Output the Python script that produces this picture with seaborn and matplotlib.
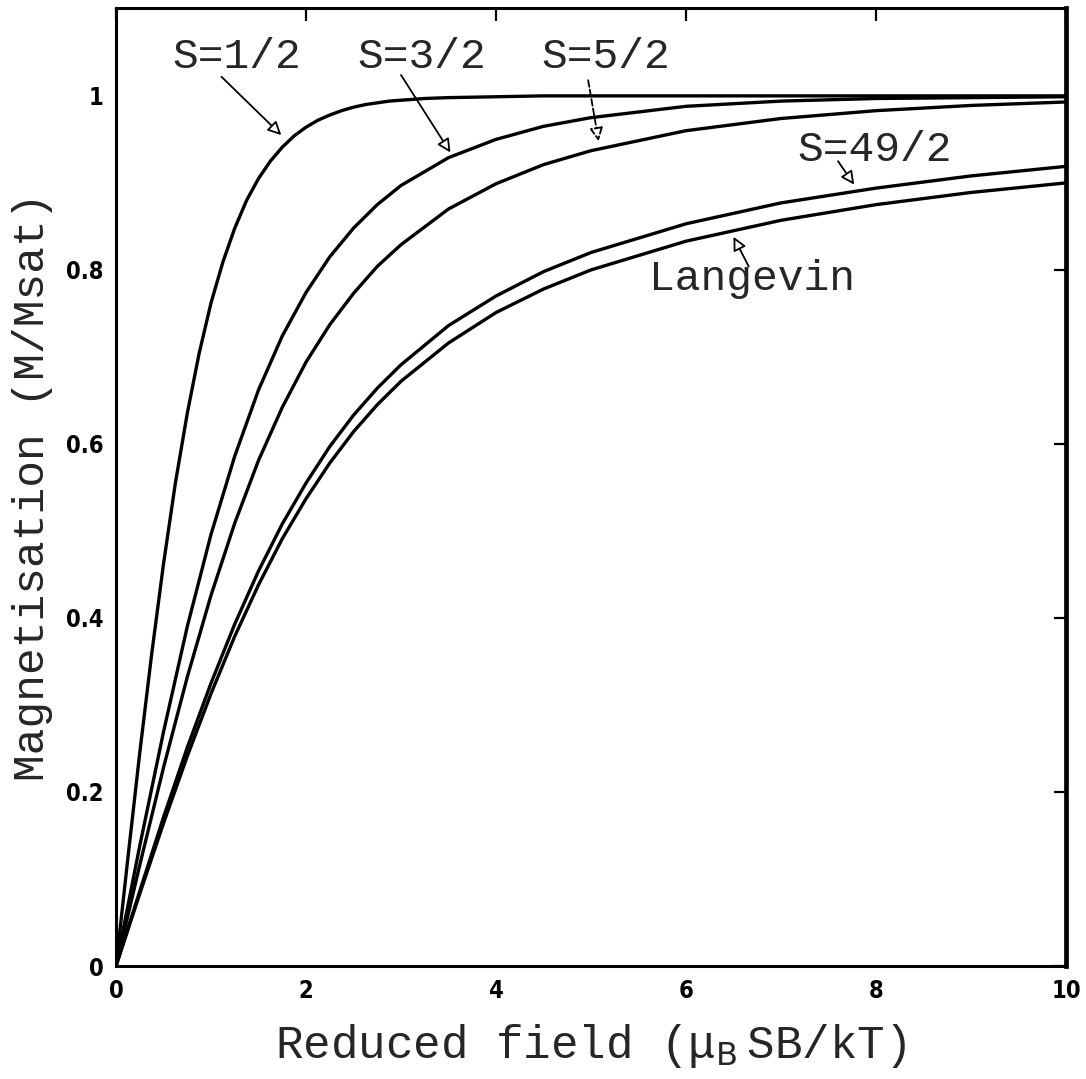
import matplotlib
matplotlib.use("Agg")
import matplotlib.pyplot as plt
import seaborn as sns
import pandas as pd

# ---- data ----
field_s1_2 = [0, 0.125, 0.25, 0.375, 0.5, 0.625, 0.75, 0.875, 1, 1.125, 1.25, 1.375, 1.5, 1.625,
              1.75, 1.875, 2, 2.125, 2.25, 2.375, 2.5, 2.625, 2.75, 2.875, 3, 3.25, 3.5, 4, 4.5,
              5, 6, 7, 8, 9, 10]
m_s1_2 = [0, .124, .245, .358, .462, .555, .635, .704, .762, .809, .848, .880, .905, .925,
          .941, .954, .964, .972, .978, .983, .987, .990, .992, .994, .995, .997, .998, .999, 1.0,
          1.0, 1.0, 1.0, 1.0, 1.0, 1.0]

field = [0, 0.25, 0.5, 0.75, 1, 1.25, 1.5, 1.75, 2, 2.25, 2.5, 2.75, 3, 3.5, 4, 4.5, 5, 6, 7, 8, 9, 10]
m_s3_2 = [0, .138, .269, .390, .496, .586, .662, .724, .774, .815, .848, .875, .897, .929, .950, .965, .975, .988, .994, .997, .998, .999]
m_s5_2 = [0, .116, .228, .332, .426, .509, .581, .642, .694, .737, .773, .804, .829, .870, .899, .921, .937, .960, .974, .983, .989, .993]
m_s49_2 = [0, .086, .171, .251, .325, .393, .454, .508, .555, .597, .633, .664, .691, .736, .770, .798, .820, .853, .877, .894, .908, .919]
m_langevin = [0, .083, .164, .241, .313, .379, .438, .491, .537, .578, .614, .645, .672, .716, .751, .778, .800, .833, .857, .875, .889, .900]

series_names = ["S=1/2", "S=3/2", "S=5/2", "S=49/2", "Langevin"]
series_x = [field_s1_2, field, field, field, field]
series_values = [m_s1_2, m_s3_2, m_s5_2, m_s49_2, m_langevin]

x_ticks = [0, 2, 4, 6, 8, 10]
x_ticklabels = ["0", "2", "4", "6", "8", "10"]
y_ticks = [0, 0.2, 0.4, 0.6, 0.8, 1.0]
y_ticklabels = ["0", "0.2", "0.4", "0.6", "0.8", "1"]

frames = []
for name, xs, vals in zip(series_names, series_x, series_values):
    frames.append(pd.DataFrame({"field": xs, "M": vals, "curve": name}))
df = pd.concat(frames, ignore_index=True)

sns.set_theme(style="white")
plt.rcParams["font.family"] = ["DejaVu Sans"]

W, H = 1086, 1079
fig = plt.figure(figsize=(W / 100, H / 100), dpi=100)
ax = fig.add_axes([116 / W, 1 - 966 / H, (1066 - 116) / W, (966 - 8) / H])

for name in series_names:
    sns.lineplot(data=df[df["curve"] == name], x="field", y="M", ax=ax,
                 color="black", lw=2.4, estimator=None, sort=False,
                 solid_joinstyle="round", solid_capstyle="round")

ax.set_xlim(0, 10)
ax.set_ylim(0, 1.101)

for s in ax.spines.values():
    s.set_linewidth(2.2)
    s.set_color("black")
ax.spines["right"].set_linewidth(3.4)

tickfont = dict(family=["DejaVu Sans"], weight="bold", stretch="condensed", size=17)
ax.set_xticks(x_ticks)
ax.set_xticklabels(x_ticklabels, **tickfont)
ax.set_yticks(y_ticks)
ax.set_yticklabels(y_ticklabels, **tickfont)
ax.tick_params(direction="in", length=9, width=1.6, top=True, right=True,
               colors="black", pad=9)
ax.set_xlabel("")
ax.set_ylabel("")

mono = ["Liberation Mono", "DejaVu Sans Mono"]
fig.text(591 / W, 1 - 1058 / H, "Reduced field (\u03bc$_{\\mathrm{B}}\\,$SB/kT)",
         family=mono, fontsize=33, ha="center", va="baseline")
fig.text(33 / W, 1 - 487 / H, "Magnetisation (M/Msat)", family=mono, fontsize=32,
         rotation=90, ha="center", va="center")

# labels with arrows
lab = dict(family=mono, fontsize=31, ha="center", va="center")
hollow = dict(arrowstyle="-|>", fc="white", ec="black", lw=1.3, mutation_scale=20, shrinkA=0, shrinkB=0)
ax.text(1.275, 1.045, "S=1/2", **lab)
ax.annotate("", xy=(1.74, 0.955), xytext=(1.11, 1.022), arrowprops=hollow)
ax.text(3.22, 1.045, "S=3/2", **lab)
ax.annotate("", xy=(3.52, 0.935), xytext=(3.0, 1.024), arrowprops=hollow)
ax.text(5.16, 1.045, "S=5/2", **lab)
ax.annotate("", xy=(5.08, 0.948), xytext=(4.97, 1.018),
            arrowprops=dict(hollow, linestyle="--"))
ax.text(7.99, 0.938, "S=49/2", **lab)
ax.annotate("", xy=(7.77, 0.898), xytext=(7.6, 0.925), arrowprops=hollow)
ax.text(6.69, 0.79, "Langevin", **lab)
ax.annotate("", xy=(6.5, 0.838), xytext=(6.66, 0.804), arrowprops=hollow)

fig.savefig("out.png", dpi=100, facecolor="white")
